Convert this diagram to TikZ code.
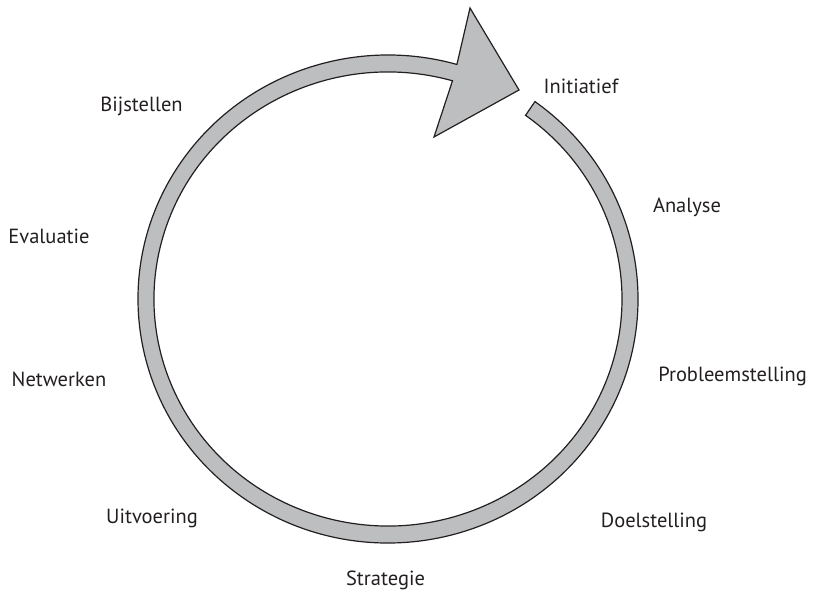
\documentclass[tikz,border=0pt]{standalone}
\usepackage{fontspec}
\setmainfont{PT Sans}
\usetikzlibrary{calc}
\definecolor{ringgray}{HTML}{BCBEC0}
\definecolor{txt}{HTML}{231F20}
\begin{document}
\begin{tikzpicture}[x=1pt,y=1pt,
  lbl/.style={font=\fontsize{20.5}{24}\selectfont, text=txt, anchor=base, inner sep=0pt},
  ring/.style={fill=ringgray, draw=txt, line width=1.2pt, line join=miter}]
\useasboundingbox (0,0) rectangle (814,592);
\coordinate (c) at (388,293);
\coordinate (tipTop) at (470,584);
\coordinate (tip) at (519,502);
\coordinate (tipBot) at (434,455);
\draw[ring] ($(c)+(54:234 and 227)$) -- ($(c)+(54:250 and 244)$)
  arc[start angle=54, end angle=-286, x radius=250, y radius=244]
  -- (tipTop) -- (tip) -- (tipBot)
  -- ($(c)+(74:234 and 227)$)
  arc[start angle=74, end angle=414, x radius=234, y radius=227] -- cycle;
\node[lbl] (init) at (581,498) {Initiatief};
\node[lbl] (analyse) at (687,379) {Analyse};
\node[lbl] (probleem) at (732.5,210) {Probleemstelling};
\node[lbl] (doel) at (654,64) {Doelstelling};
\node[lbl] (strat) at (385.5,7) {Strategie};
\node[lbl] (uitv) at (152,68) {Uitvoering};
\node[lbl] (netw) at (59,205) {Netwerken};
\node[lbl] (eval) at (49,348) {Evaluatie};
\node[lbl] (bijst) at (141.5,480) {Bijstellen};
\end{tikzpicture}
\end{document}
